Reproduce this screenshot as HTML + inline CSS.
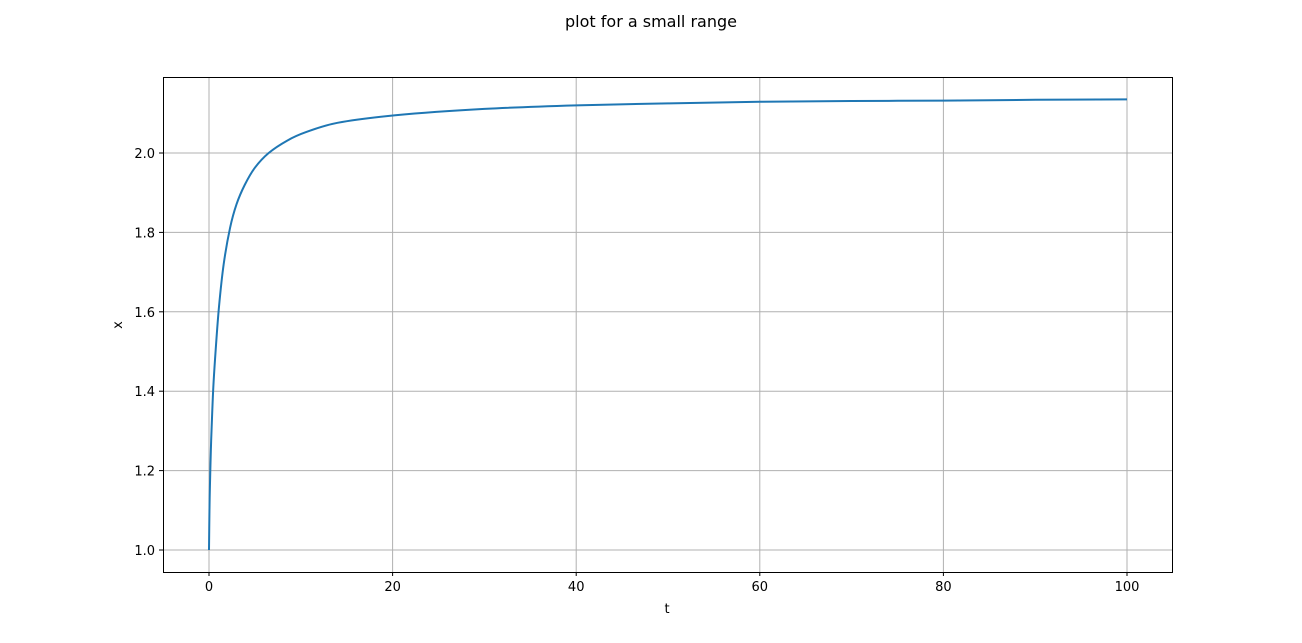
<!DOCTYPE html>
<html><head><meta charset="utf-8"><style>
body{margin:0;background:#fff;}
svg{display:block;font-family:"DejaVu Sans","Liberation Sans",sans-serif;}
</style></head><body>
<svg id="chart" width="1302" height="643">
<text x="651" y="27" text-anchor="middle" font-size="16">plot for a small range</text>
<g id="grid"></g>
<g id="xticks"></g>
<g id="yticks"></g>
<path id="line" fill="none" stroke="#1f77b4" stroke-width="2"/>
<rect x="163.5" y="77.5" width="1009" height="495" fill="none" stroke="#000" stroke-width="1"/>
<text x="667" y="613" text-anchor="middle" font-size="13">t</text>
<text transform="translate(122,325) rotate(-90)" text-anchor="middle" font-size="13">x</text>
</svg>
<script>
const tValues=[0,0.05,0.1,0.2,0.29,0.47,0.73,1.09,1.6,2.29,3.0,3.9,5.0,6.5,8.5,10.5,14,20.3,30,40,50,60,70,80,90,100];
const xValues=[1.0,1.1,1.16,1.25,1.31,1.41,1.505,1.613,1.72,1.811,1.871,1.92,1.963,2.0,2.031,2.052,2.076,2.095,2.111,2.12,2.125,2.129,2.131,2.132,2.134,2.135];
const xTicks=[0,20,40,60,80,100];
const yTicks=[1.0,1.2,1.4,1.6,1.8,2.0];
const X=t=>209+t*9.18;
const Y=v=>550-(v-1)*397;
const ns="http://www.w3.org/2000/svg";
const grid=document.getElementById('grid'),xt=document.getElementById('xticks'),yt=document.getElementById('yticks');
function mk(tag,attrs,parent){const e=document.createElementNS(ns,tag);for(const k in attrs)e.setAttribute(k,attrs[k]);parent.appendChild(e);return e;}
xTicks.forEach(t=>{const x=X(t);
 const g=mk('line',{x1:x,x2:x,y1:77,y2:572,stroke:'#b0b0b0','stroke-width':1},grid);
 
 
 mk('line',{x1:x,x2:x,y1:572,y2:576,stroke:'#000'},xt);
 const l=mk('text',{x:x,y:591,'text-anchor':'middle','font-size':13},xt);l.textContent=t;
 
 
});
yTicks.forEach(v=>{const y=Y(v);
 const g=mk('line',{x1:163,x2:1172,y1:y,y2:y,stroke:'#b0b0b0','stroke-width':1},grid);
 
 
 mk('line',{x1:159,x2:163,y1:y,y2:y,stroke:'#000'},yt);
 const l=mk('text',{x:155,y:y+5,'text-anchor':'end','font-size':13},yt);l.textContent=v.toFixed(1);
 
 
});
const pts=tValues.map((t,i)=>[X(t),Y(xValues[i])]);
let d='M'+pts[0][0]+','+pts[0][1];
for(let i=0;i<pts.length-1;i++){const p0=pts[Math.max(0,i-1)],p1=pts[i],p2=pts[i+1],p3=pts[Math.min(pts.length-1,i+2)];
 const c1=[p1[0]+(p2[0]-p0[0])/6,p1[1]+(p2[1]-p0[1])/6],c2=[p2[0]-(p3[0]-p1[0])/6,p2[1]-(p3[1]-p1[1])/6];
 d+=` C${c1[0]},${c1[1]} ${c2[0]},${c2[1]} ${p2[0]},${p2[1]}`;}
document.getElementById('line').setAttribute('d',d);
</script>
</body></html>
